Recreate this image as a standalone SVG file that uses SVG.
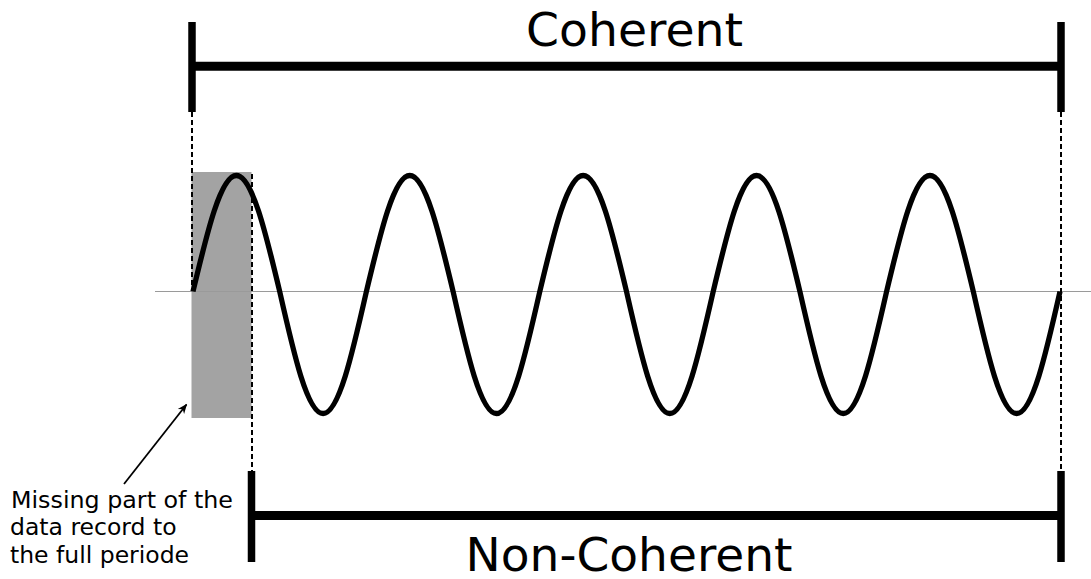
<svg xmlns="http://www.w3.org/2000/svg" width="1091" height="579" viewBox="0 0 1091 579">
<style>
.bar{stroke:#000;fill:none}
.dash{stroke:#000;stroke-width:2;stroke-dasharray:5,3;fill:none}
.big{font-family:"DejaVu Sans",sans-serif;font-size:46px;fill:#000}
.small{font-family:"DejaVu Sans",sans-serif;font-size:23.5px;fill:#000}
</style>
<defs>
<marker id="ah" markerWidth="10" markerHeight="10" refX="9" refY="5" orient="auto" markerUnits="userSpaceOnUse">
<path d="M0,1 L10,5 L0,9 L3,5 Z" fill="#000"/>
</marker>
</defs>
<rect id="missing" x="191.5" y="172" width="60" height="246" fill="#a3a3a3"/>
<line id="axis" x1="155" y1="291.5" x2="1091" y2="291.5" stroke="#9a9a9a" stroke-width="1.2"/>
<g id="connectors">
<line class="dash" x1="192" y1="112" x2="192" y2="291"/>
<line class="dash" x1="252" y1="174" x2="252" y2="472"/>
<line class="dash" x1="1061" y1="112" x2="1061" y2="472"/>
<line x1="124" y1="484" x2="186.5" y2="404.5" stroke="#000" stroke-width="1.8" marker-end="url(#ah)"/>
</g>
<path id="wave" fill="none" stroke="#000" stroke-width="5.3" stroke-linejoin="round" d="M193,291.5
c14.14,-59.43 27.66,-116 43.35,-116 c15.69,0 29.21,56.57 43.35,116 c14.14,62.5 27.66,122 43.35,122 c15.69,0 29.21,-59.5 43.35,-122
c14.14,-59.43 27.66,-116 43.35,-116 c15.69,0 29.21,56.57 43.35,116 c14.14,62.5 27.66,122 43.35,122 c15.69,0 29.21,-59.5 43.35,-122
c14.14,-59.43 27.66,-116 43.35,-116 c15.69,0 29.21,56.57 43.35,116 c14.14,62.5 27.66,122 43.35,122 c15.69,0 29.21,-59.5 43.35,-122
c14.14,-59.43 27.66,-116 43.35,-116 c15.69,0 29.21,56.57 43.35,116 c14.14,62.5 27.66,122 43.35,122 c15.69,0 29.21,-59.5 43.35,-122
c14.14,-59.43 27.66,-116 43.35,-116 c15.69,0 29.21,56.57 43.35,116 c14.14,62.5 27.66,122 43.35,122 c15.69,0 29.21,-59.5 43.35,-122"/>
<g id="coherent">
<line class="bar" x1="192" y1="22" x2="192" y2="112" stroke-width="7.5"/>
<line class="bar" x1="1061" y1="22" x2="1061" y2="112" stroke-width="7.5"/>
<line class="bar" x1="192" y1="66.3" x2="1061" y2="66.3" stroke-width="9"/>
<text class="big" x="634.5" y="46" text-anchor="middle" textLength="217" lengthAdjust="spacingAndGlyphs">Coherent</text>
</g>
<g id="noncoherent">
<line class="bar" x1="251.5" y1="471" x2="251.5" y2="562" stroke-width="7.5"/>
<line class="bar" x1="1061" y1="471" x2="1061" y2="562" stroke-width="7.5"/>
<line class="bar" x1="251.5" y1="515.5" x2="1061" y2="515.5" stroke-width="9"/>
<text class="big" x="629" y="571" text-anchor="middle" textLength="327" lengthAdjust="spacingAndGlyphs">Non-Coherent</text>
</g>
<g id="note">
<text class="small" x="11" y="508" textLength="222" lengthAdjust="spacingAndGlyphs">Missing part of the</text>
<text class="small" x="10" y="535">data record to</text>
<text class="small" x="10" y="562.5">the full periode</text>
</g>
</svg>
